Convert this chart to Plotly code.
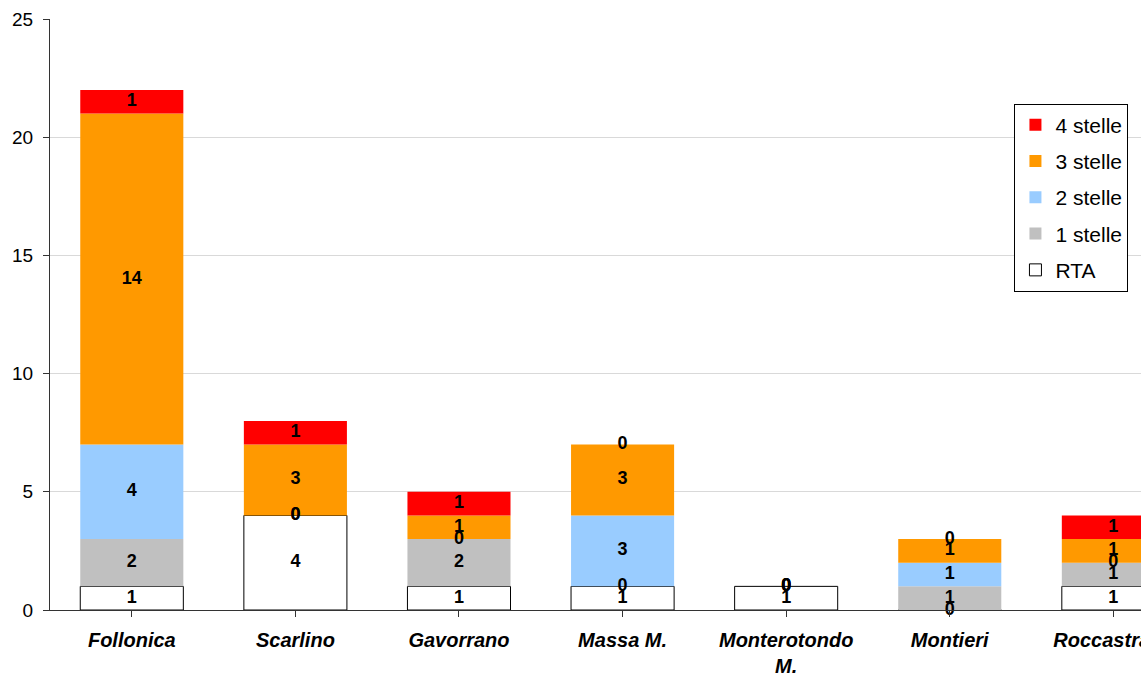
import plotly.graph_objects as go

categories = ["Follonica", "Scarlino", "Gavorrano", "Massa M.", "Monterotondo<br>M.", "Montieri", "Roccastrada"]
rta = [1, 4, 1, 1, 1, 0, 1]
stelle1 = [2, 0, 2, 0, 0, 1, 1]
stelle2 = [4, 0, 0, 3, 0, 1, 0]
stelle3 = [14, 3, 1, 3, 0, 1, 1]
stelle4 = [1, 1, 1, 0, 0, 0, 1]

series = [
    ("RTA", rta, "#FFFFFF"),
    ("1 stelle", stelle1, "#C0C0C0"),
    ("2 stelle", stelle2, "#99CCFF"),
    ("3 stelle", stelle3, "#FF9900"),
    ("4 stelle", stelle4, "#FF0000"),
]

FONT = "Liberation Sans, Arial"
xidx = list(range(len(categories)))
fig = go.Figure()
base = [0] * len(categories)
label_x, label_y, label_t = [], [], []
for k, (name, vals, color) in enumerate(series):
    fig.add_trace(go.Bar(
        x=xidx, y=vals, base=base[:], name=name, width=0.63, legendgroup=name,
        legendrank=len(series) - k,
        marker=dict(color=color,
                    line=dict(color="black" if name == "RTA" else color, width=1 if name == "RTA" else 0)),
    ))
    for i, v in enumerate(vals):
        label_x.append(i)
        label_y.append(base[i] + v / 2)
        label_t.append(str(v))
    base = [b + v for b, v in zip(base, vals)]

fig.add_trace(go.Scatter(
    x=label_x, y=label_y, text=label_t, mode="text", showlegend=False,
    textfont=dict(family=FONT, size=18, color="black"),
    texttemplate="<b>%{text}</b>", cliponaxis=False, hoverinfo="skip",
))

fig.update_layout(
    width=1141, height=676,
    margin=dict(l=50, r=0, t=19, b=66, autoexpand=False),
    barmode="overlay",
    plot_bgcolor="white", paper_bgcolor="white",
    font=dict(family=FONT, color="black"),
    legend=dict(
        x=0.884, y=0.857, xanchor="left", yanchor="top",
        bordercolor="black", borderwidth=1,
        bgcolor="white", font=dict(size=21, family=FONT),
        itemwidth=30, tracegroupgap=6,
    ),
)
fig.update_xaxes(
    range=[-0.5, 6.169], tickmode="array", tickvals=xidx,
    ticktext=["<b><i>" + c + "</i></b>" for c in categories],
    tickfont=dict(size=20, family=FONT),
    showline=True, linecolor="#333333", linewidth=1,
    ticks="outside", ticklen=6, tickcolor="#333333", tickson="boundaries",
    ticklabelstandoff=6, ticklabeloverflow="allow", automargin=False,
    showgrid=False, zeroline=False,
)
fig.update_yaxes(
    range=[0, 25], tickvals=[0, 5, 10, 15, 20, 25],
    tickfont=dict(size=19, family=FONT),
    showline=True, linecolor="#333333", linewidth=1,
    ticks="outside", ticklen=6, tickcolor="#333333", ticklabelstandoff=6,
    automargin=False,
    showgrid=True, gridcolor="#D9D9D9", gridwidth=1, zeroline=False,
)

fig.write_html("out.html")
